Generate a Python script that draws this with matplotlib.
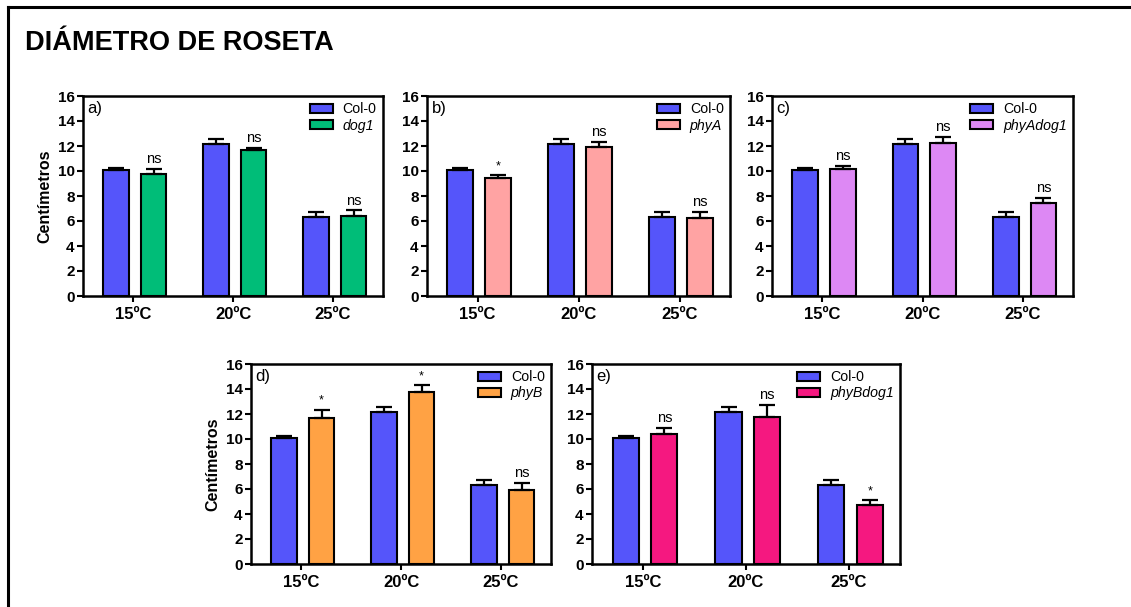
import matplotlib
matplotlib.use("Agg")
import matplotlib.pyplot as plt
from matplotlib.lines import Line2D
import numpy as np

plt.rcParams["font.family"] = ["Liberation Sans", "DejaVu Sans"]

temps = ["15ºC", "20ºC", "25ºC"]

col0 = [10.10, 12.20, 6.30]
col0_err = [0.15, 0.35, 0.45]

dog1 = [9.75, 11.65, 6.40]
dog1_err = [0.45, 0.20, 0.45]
dog1_sig = ["ns", "ns", "ns"]

phyA = [9.42, 11.93, 6.28]
phyA_err = [0.27, 0.40, 0.48]
phyA_sig = ["*", "ns", "ns"]

phyAdog1 = [10.16, 12.28, 7.47]
phyAdog1_err = [0.24, 0.43, 0.37]
phyAdog1_sig = ["ns", "ns", "ns"]

phyB = [11.65, 13.80, 5.95]
phyB_err = [0.70, 0.53, 0.56]
phyB_sig = ["*", "*", "ns"]

phyBdog1 = [10.43, 11.78, 4.69]
phyBdog1_err = [0.45, 0.93, 0.40]
phyBdog1_sig = ["ns", "ns", "*"]

W, H = 1131, 607
fig = plt.figure(figsize=(W / 100, H / 100), dpi=100)


def px_axes(left, top, right, bottom):
    return fig.add_axes([left / W, 1 - bottom / H, (right - left) / W, (bottom - top) / H])


panels = [
    # (box, letter, name, values, errors, signif, colour, ylabel)
    ((83, 96, 383, 296), "a)", "dog1", dog1, dog1_err, dog1_sig, "#00BD78", True),
    ((427, 96, 730, 296), "b)", "phyA", phyA, phyA_err, phyA_sig, "#FFA3A3", False),
    ((772, 96, 1073, 296), "c)", "phyAdog1", phyAdog1, phyAdog1_err, phyAdog1_sig, "#DD88F4", False),
    ((251, 364, 551, 564), "d)", "phyB", phyB, phyB_err, phyB_sig, "#FFA244", True),
    ((592, 364, 900, 564), "e)", "phyBdog1", phyBdog1, phyBdog1_err, phyBdog1_sig, "#F51880", False),
]

x = np.arange(len(temps))
bw = 0.255

for box, letter, name, vals, errs, sig, colour, show_ylabel in panels:
    ax = px_axes(*box)
    ek = dict(ecolor="black", elinewidth=1.6, capsize=5.5, capthick=1.6)
    ax.bar(x - 0.17, col0, bw, color="#5555FA", edgecolor="black", linewidth=1.5,
           yerr=[np.zeros(3), col0_err], error_kw=ek, label="Col-0", zorder=2)
    ax.bar(x + 0.205, vals, bw, color=colour, edgecolor="black", linewidth=1.5,
           yerr=[np.zeros(3), errs], error_kw=ek, label=name, zorder=2)

    for xi, v, e, s in zip(x, vals, errs, sig):
        ax.annotate(s, (xi + 0.205, v + e), xytext=(0, 2), textcoords="offset points",
                    ha="center", va="bottom", fontsize=10.5 if s == "ns" else 9)

    ax.set_ylim(0, 16)
    ax.set_xlim(-0.5, 2.5)
    ax.set_yticks(range(0, 17, 2))
    ax.set_xticks(x)
    ax.set_xticklabels(temps, fontsize=12, fontweight="bold")
    for lab in ax.get_yticklabels():
        lab.set_fontweight("bold")
        lab.set_fontsize(11)
    ax.tick_params(axis="both", direction="out", width=1.5, length=4, pad=2)
    ax.tick_params(axis="x", pad=4)
    for sp in ax.spines.values():
        sp.set_linewidth(1.8)

    if show_ylabel:
        ax.set_ylabel("Centímetros", fontsize=11.5, fontweight="bold", labelpad=4)

    ax.text(0.015, 0.975, letter, transform=ax.transAxes, ha="left", va="top", fontsize=12)

    leg = ax.legend(loc="upper right", frameon=False, fontsize=10.2, handlelength=1.6,
                    handleheight=0.55, handletextpad=0.7, labelspacing=0.15,
                    borderaxespad=0.25, borderpad=0.2)
    leg.get_texts()[1].set_fontstyle("italic")

fig.text(25 / W, 1 - 50 / H, "DIÁMETRO DE ROSETA", fontsize=19.5, fontweight="bold",
         ha="left", va="baseline")

fig.add_artist(Line2D([8 / W, 1.0], [1 - 7 / H, 1 - 7 / H], transform=fig.transFigure,
                      color="black", linewidth=2.2))
fig.add_artist(Line2D([8 / W, 8 / W], [0.0, 1 - 7 / H], transform=fig.transFigure,
                      color="black", linewidth=2.2))

fig.savefig("out.png", dpi=100)
